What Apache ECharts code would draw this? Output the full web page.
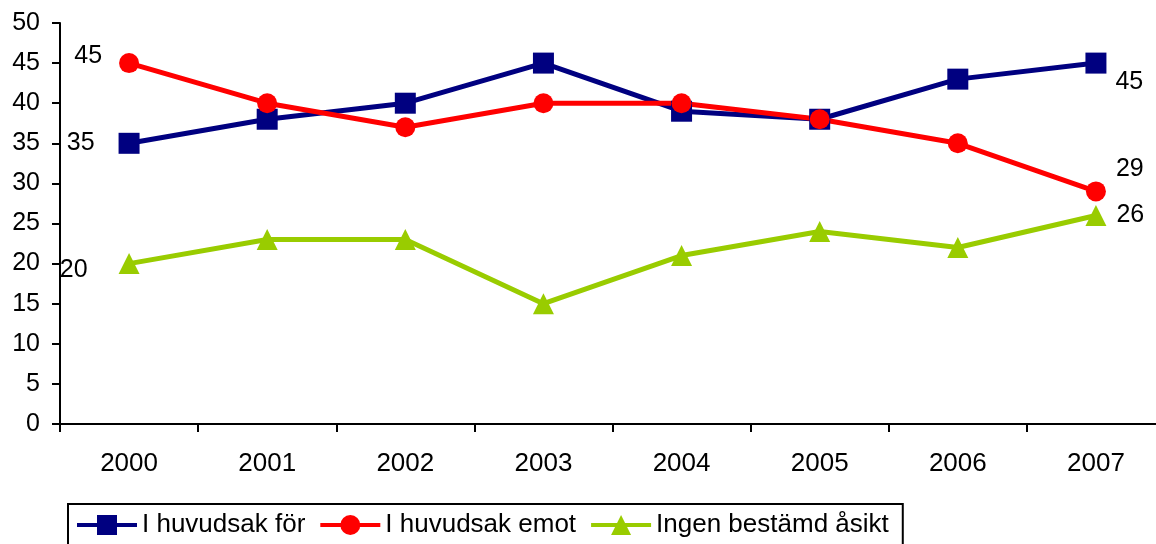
<!DOCTYPE html>
<html>
<head>
    <meta charset="utf-8" />
    <title>Opinion 2000-2007</title>
    <script src="https://cdn.jsdelivr.net/npm/echarts@6/dist/echarts.min.js"></script>
    <style>
        html, body { margin: 0; padding: 0; background: #fff; }
        #main { width: 1156px; height: 544px; }
    </style>
</head>
<body>
    <div id="main"></div>
    <script>
        var years = ['2000', '2001', '2002', '2003', '2004', '2005', '2006', '2007'];
        var forValues = [35, 38, 40, 45, 39, 38, 43, 45];
        var emotValues = [45, 40, 37, 40, 40, 38, 35, 29];
        var ingenValues = [20, 23, 23, 15, 21, 24, 22, 26];

        var labelFont = { color: '#000', fontFamily: 'Liberation Sans, Arial', fontSize: 25 };

        // only first and last point get a value label
        function withEndLabels(values, first, last) {
            return values.map(function (v, i) {
                if (i === 0) return { value: v, label: Object.assign({ show: true }, labelFont, first) };
                if (i === values.length - 1) return { value: v, label: Object.assign({ show: true }, labelFont, last) };
                return v;
            });
        }

        var myChart = echarts.init(document.getElementById('main'));
        var option = {
            animation: false,
            grid: { left: 60, top: 23, width: 1105, height: 401, outerBoundsMode: 'none' },
            xAxis: {
                type: 'category',
                data: years,
                boundaryGap: true,
                axisLine: { lineStyle: { color: '#000', width: 2 } },
                axisTick: { show: true, length: 8, lineStyle: { color: '#000', width: 2 } },
                axisLabel: { color: '#000', fontFamily: 'Liberation Sans, Arial', fontSize: 26, margin: 27 }
            },
            yAxis: {
                type: 'value',
                min: 0,
                max: 50,
                interval: 5,
                splitLine: { show: false },
                axisLine: { show: true, lineStyle: { color: '#000', width: 2 } },
                axisTick: { show: true, length: 8, lineStyle: { color: '#000', width: 2 } },
                axisLabel: { color: '#000', fontFamily: 'Liberation Sans, Arial', fontSize: 25, margin: 20 }
            },
            legend: {
                left: 68,
                top: 504,
                padding: [8, 14, 12, 7],
                borderColor: '#000',
                borderWidth: 2,
                itemWidth: 60,
                itemHeight: 25,
                itemGap: 13,
                lineStyle: { width: 4 },
                textStyle: { color: '#000', fontFamily: 'Liberation Sans, Arial', fontSize: 26 },
                data: ['I huvudsak för', 'I huvudsak emot', 'Ingen bestämd åsikt']
            },
            series: [
                {
                    name: 'I huvudsak för',
                    type: 'line',
                    symbol: 'rect',
                    symbolSize: 21,
                    color: '#000080',
                    lineStyle: { width: 5, color: '#000080' },
                    data: withEndLabels(forValues,
                        { position: 'left', distance: 24 },
                        { position: 'right', distance: 9, offset: [0, 19] })
                },
                {
                    name: 'I huvudsak emot',
                    type: 'line',
                    symbol: 'circle',
                    symbolSize: 20,
                    color: '#ff0000',
                    lineStyle: { width: 5, color: '#ff0000' },
                    data: withEndLabels(emotValues,
                        { position: 'left', distance: 17, offset: [0, -7] },
                        { position: 'right', distance: 10, offset: [0, -22] })
                },
                {
                    name: 'Ingen bestämd åsikt',
                    type: 'line',
                    symbol: 'triangle',
                    symbolSize: 21,
                    color: '#99cc00',
                    lineStyle: { width: 5, color: '#99cc00' },
                    data: withEndLabels(ingenValues,
                        { position: 'left', distance: 31, offset: [0, 7] },
                        { position: 'right', distance: 10, offset: [0, 0] })
                }
            ]
        };
        myChart.setOption(option);
    </script>
</body>
</html>
